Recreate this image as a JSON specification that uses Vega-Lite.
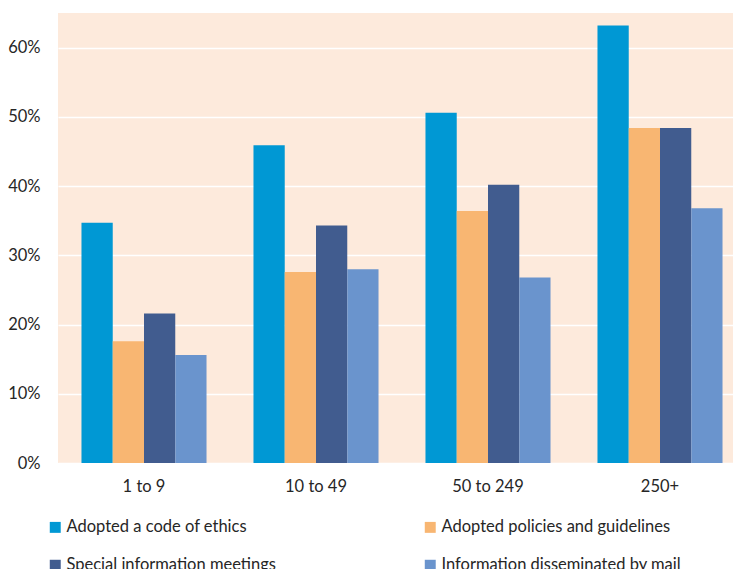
{
  "$schema": "https://vega.github.io/schema/vega-lite/v6.json",
  "autosize": {"type": "none"},
  "padding": {"left": 58, "top": 13, "right": 0, "bottom": 106},
  "width": 675,
  "height": 450,
  "background": "white",
  "config": {
    "view": {"fill": "#FDEADC", "stroke": null},
    "font": "Lato",
    "axis": {"labelFont": "Lato", "labelFontSize": 16.5, "labelColor": "#262626"},
    "legend": {"labelFont": "Lato", "labelFontSize": 16.5, "labelColor": "#262626"}
  },
  "data": {
    "values": [
      {"size": "1 to 9", "measure": "Adopted a code of ethics", "value": 0.347},
      {"size": "1 to 9", "measure": "Adopted policies and guidelines", "value": 0.176},
      {"size": "1 to 9", "measure": "Special information meetings", "value": 0.216},
      {"size": "1 to 9", "measure": "Information disseminated by mail", "value": 0.156},
      {"size": "10 to 49", "measure": "Adopted a code of ethics", "value": 0.459},
      {"size": "10 to 49", "measure": "Adopted policies and guidelines", "value": 0.276},
      {"size": "10 to 49", "measure": "Special information meetings", "value": 0.343},
      {"size": "10 to 49", "measure": "Information disseminated by mail", "value": 0.280},
      {"size": "50 to 249", "measure": "Adopted a code of ethics", "value": 0.506},
      {"size": "50 to 249", "measure": "Adopted policies and guidelines", "value": 0.364},
      {"size": "50 to 249", "measure": "Special information meetings", "value": 0.402},
      {"size": "50 to 249", "measure": "Information disseminated by mail", "value": 0.268},
      {"size": "250+", "measure": "Adopted a code of ethics", "value": 0.632},
      {"size": "250+", "measure": "Adopted policies and guidelines", "value": 0.484},
      {"size": "250+", "measure": "Special information meetings", "value": 0.484},
      {"size": "250+", "measure": "Information disseminated by mail", "value": 0.368}
    ]
  },
  "mark": {"type": "bar"},
  "encoding": {
    "x": {
      "field": "size", "type": "nominal",
      "sort": ["1 to 9", "10 to 49", "50 to 249", "250+"],
      "scale": {"paddingInner": 0.273, "paddingOuter": 0.1365, "range": [0, 688]},
      "axis": {"title": null, "labelAngle": 0, "domain": false, "ticks": false, "labelPadding": 15, "grid": false}
    },
    "xOffset": {
      "field": "measure", "type": "nominal",
      "sort": ["Adopted a code of ethics", "Adopted policies and guidelines", "Special information meetings", "Information disseminated by mail"],
      "scale": {"paddingInner": 0, "paddingOuter": 0}
    },
    "y": {
      "field": "value", "type": "quantitative",
      "scale": {"domain": [0, 0.65], "nice": false},
      "axis": {"title": null, "format": ".0%", "values": [0, 0.1, 0.2, 0.3, 0.4, 0.5, 0.6], "domain": false, "ticks": false, "labelPadding": 18, "gridColor": "white", "gridWidth": 1.5, "gridOpacity": 1}
    },
    "color": {
      "field": "measure", "type": "nominal",
      "sort": ["Adopted a code of ethics", "Adopted policies and guidelines", "Special information meetings", "Information disseminated by mail"],
      "scale": {"range": ["#0098D4", "#F8B672", "#415C8F", "#6A94CD"]},
      "legend": {
        "title": null, "orient": "none", "legendX": -11, "legendY": 506,
        "direction": "horizontal",
        "columns": 2, "columnPadding": 146, "rowPadding": 21,
        "labelLimit": 400,
        "symbolType": "square", "symbolSize": 120, "symbolStrokeWidth": 0, "labelOffset": 3
      }
    }
  }
}
